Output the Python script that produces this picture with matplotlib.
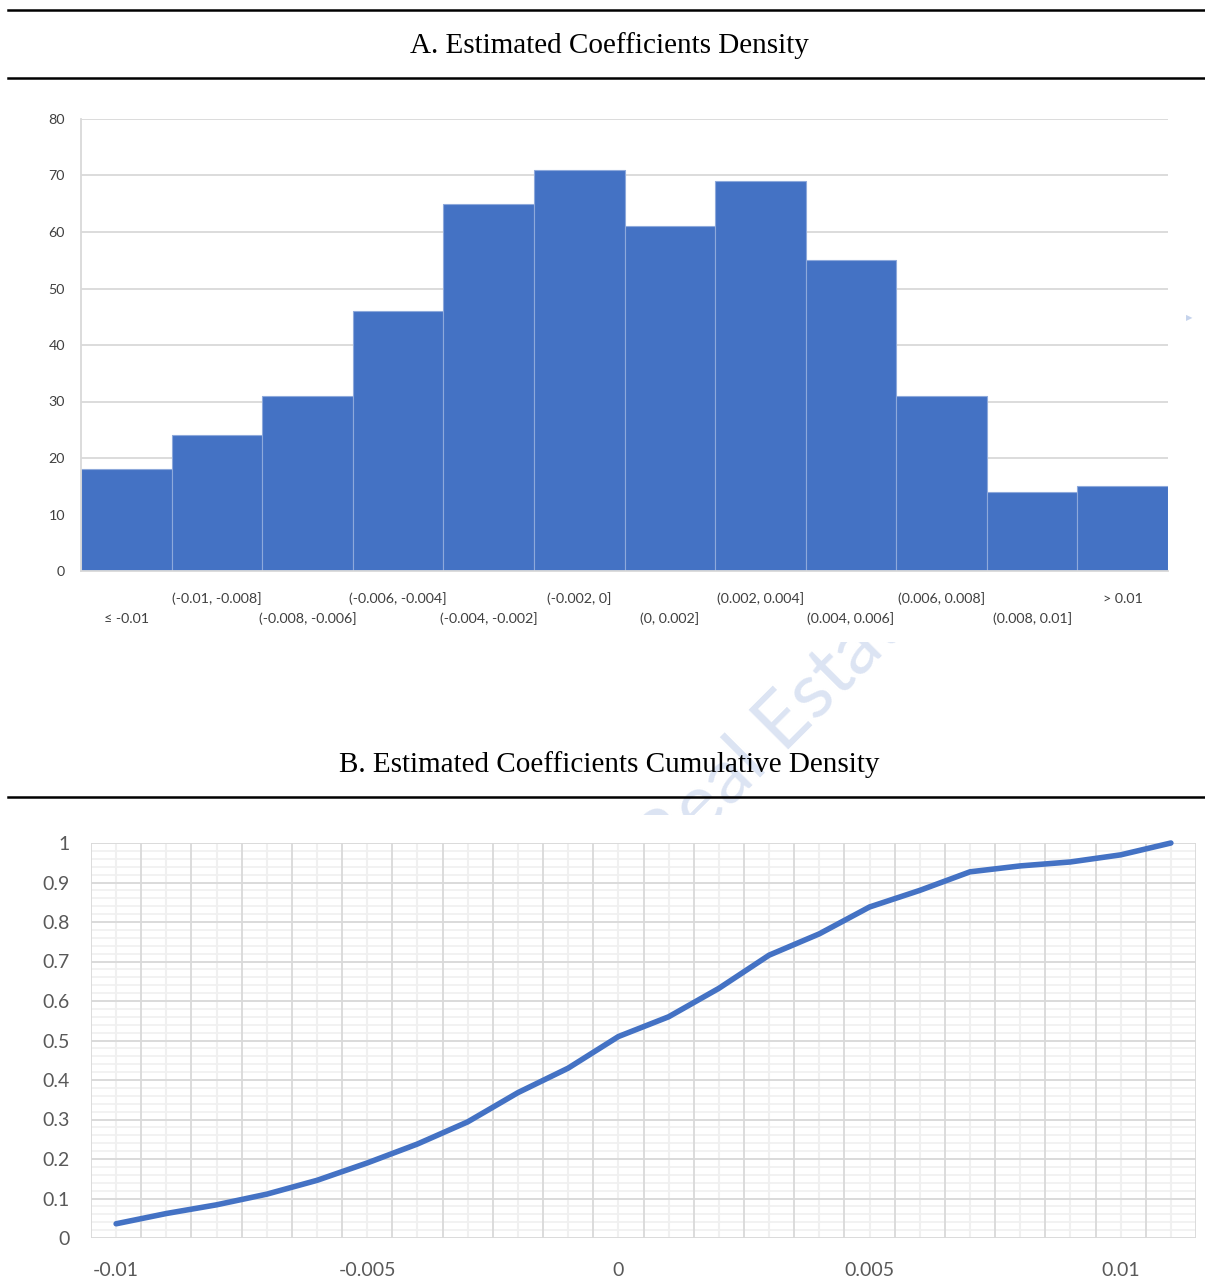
import matplotlib
matplotlib.use("Agg")
import matplotlib.pyplot as plt
from matplotlib.patches import Rectangle
from matplotlib.lines import Line2D
import numpy as np

# ---------------- data ----------------
bin_labels = ["≤ -0.01", "(-0.01, -0.008]", "(-0.008, -0.006]", "(-0.006, -0.004]",
              "(-0.004, -0.002]", "(-0.002, 0]", "(0, 0.002]", "(0.002, 0.004]",
              "(0.004, 0.006]", "(0.006, 0.008]", "(0.008, 0.01]", "> 0.01"]
counts = [18, 24, 31, 46, 65, 71, 61, 69, 55, 31, 14, 15]
hist_yticks = [0, 10, 20, 30, 40, 50, 60, 70, 80]

cdf_x = [-0.010, -0.009, -0.008, -0.007, -0.006, -0.005, -0.004, -0.003, -0.002, -0.001,
         0.000, 0.001, 0.002, 0.003, 0.004, 0.005, 0.006, 0.007, 0.008, 0.009, 0.010, 0.011]
cdf_y = [0.036, 0.062, 0.084, 0.111, 0.146, 0.190, 0.238, 0.294, 0.368, 0.430,
         0.510, 0.560, 0.632, 0.716, 0.770, 0.838, 0.880, 0.927, 0.942, 0.952, 0.970, 1.000]
cdf_xticks = [-0.01, -0.005, 0, 0.005, 0.01]
cdf_xticklabels = ["-0.01", "-0.005", "0", "0.005", "0.01"]
cdf_yticks = [0, 0.1, 0.2, 0.3, 0.4, 0.5, 0.6, 0.7, 0.8, 0.9, 1.0]
cdf_yticklabels = ["0", "0.1", "0.2", "0.3", "0.4", "0.5", "0.6", "0.7", "0.8", "0.9", "1"]

title_a = "A. Estimated Coefficients Density"
title_b = "B. Estimated Coefficients Cumulative Density"

# ---------------- style ----------------
W, H = 1205, 1281
DPI = 100
PT = 72 / DPI  # points per pixel
BLUE = "#4472C4"
GRID = "#D9D9D9"
GRID_MINOR = "#F0F0F0"
TXT = "#595959"
SANS = ["Lato", "DejaVu Sans"]
SERIF = ["Liberation Serif", "DejaVu Serif"]

fig = plt.figure(figsize=(W / DPI, H / DPI), dpi=DPI)
fig.patch.set_facecolor("white")

def fx(px):
    return px / W

def fy(py):
    return 1 - py / H

# watermark (visible only in the gap between the charts)
fig.text(fx(785), fy(722), "Real Estate", fontsize=56, color="#DCE4F3",
         rotation=45, ha="center", va="center", family=SANS, zorder=0.1)
fig.patches.append(Rectangle((0, fy(642)), 1, fy(84) - fy(642), transform=fig.transFigure,
                             facecolor="white", edgecolor="none", zorder=0.3))
fig.patches.append(Rectangle((0, 0), 1, fy(815), transform=fig.transFigure,
                             facecolor="white", edgecolor="none", zorder=0.3))

# titles and rules
fig.text(fx(609), fy(46), title_a, fontsize=21, family=SERIF, ha="center", va="center",
         color="black", zorder=2)
fig.text(fx(609), fy(765), title_b, fontsize=21, family=SERIF, ha="center", va="center",
         color="black", zorder=2)
for yy in (10, 78, 797):
    fig.lines.append(Line2D([fx(8), 1.0], [fy(yy), fy(yy)], transform=fig.transFigure,
                            color="black", lw=1.8, zorder=2))

# ---------------- chart A: histogram ----------------
axA = fig.add_axes([fx(81), fy(571), fx(1168) - fx(81), fy(119) - fy(571)], zorder=1)
axA.set_facecolor("none")
pos = np.arange(len(counts))
axA.bar(pos, counts, width=1.0, color=BLUE, edgecolor="#8EA9DB", linewidth=0.8, zorder=2)
axA.set_xlim(-0.5, len(counts) - 0.5)
axA.set_ylim(0, 80)
axA.set_yticks(hist_yticks)
axA.set_yticklabels([str(v) for v in hist_yticks])
axA.yaxis.grid(True, color=GRID, lw=1.3, zorder=0)
axA.set_axisbelow(True)
axA.set_xticks([])
axA.tick_params(axis="y", length=0, pad=16 * PT, labelsize=10.3, labelcolor="#404040")
for lab in axA.get_yticklabels():
    lab.set_family(SANS)
for side in ("top", "right"):
    axA.spines[side].set_visible(False)
for side in ("left", "bottom"):
    axA.spines[side].set_color(GRID)
    axA.spines[side].set_linewidth(1.3)
for i, lab in enumerate(bin_labels):
    off = 28 if i % 2 == 1 else 48
    axA.annotate(lab, xy=(i, 0), xycoords=("data", "axes fraction"),
                 xytext=(0, -off * PT), textcoords="offset points",
                 ha="center", va="center", fontsize=10.3, color="#404040", family=SANS,
                 annotation_clip=False)

# small marker at right edge (Excel artifact)
fig.text(fx(1189), fy(318), "▶", fontsize=6, color="#C5D3EC", ha="center", va="center",
         family=["DejaVu Sans"], zorder=2)

# ---------------- chart B: cumulative ----------------
axB = fig.add_axes([fx(91), fy(1238), fx(1196) - fx(91), fy(843) - fy(1238)], zorder=1)
axB.set_facecolor("none")
step = cdf_x[1] - cdf_x[0]
xmin, xmax = cdf_x[0] - step / 2, cdf_x[-1] + step / 2
axB.set_xlim(xmin, xmax)
axB.set_ylim(0, 1)
# minor horizontal gridlines
for v in np.arange(0, 1.0001, 0.02):
    axB.axhline(v, color=GRID_MINOR, lw=1.2, zorder=0.5)
# vertical gridlines: light at category centres, darker at category boundaries
for xv in cdf_x:
    axB.axvline(xv, color=GRID_MINOR, lw=1.5, zorder=0.6)
for xv in list(np.array(cdf_x) - step / 2) + [cdf_x[-1] + step / 2]:
    axB.axvline(xv, color=GRID, lw=1.3, zorder=0.8)
for v in cdf_yticks:
    axB.axhline(v, color=GRID, lw=1.3, zorder=0.8)
axB.plot(cdf_x, cdf_y, color=BLUE, lw=4.0, solid_capstyle="round",
         solid_joinstyle="round", zorder=3, clip_on=False)
axB.set_xticks(cdf_xticks)
axB.set_xticklabels(cdf_xticklabels)
axB.set_yticks(cdf_yticks)
axB.set_yticklabels(cdf_yticklabels)
axB.tick_params(axis="x", length=0, pad=24 * PT, labelsize=14, labelcolor=TXT)
axB.tick_params(axis="y", length=0, pad=21 * PT, labelsize=14, labelcolor=TXT)
for lab in axB.get_xticklabels() + axB.get_yticklabels():
    lab.set_family(SANS)
for side in axB.spines:
    axB.spines[side].set_visible(False)

fig.savefig("out.png", dpi=DPI, facecolor="white")
